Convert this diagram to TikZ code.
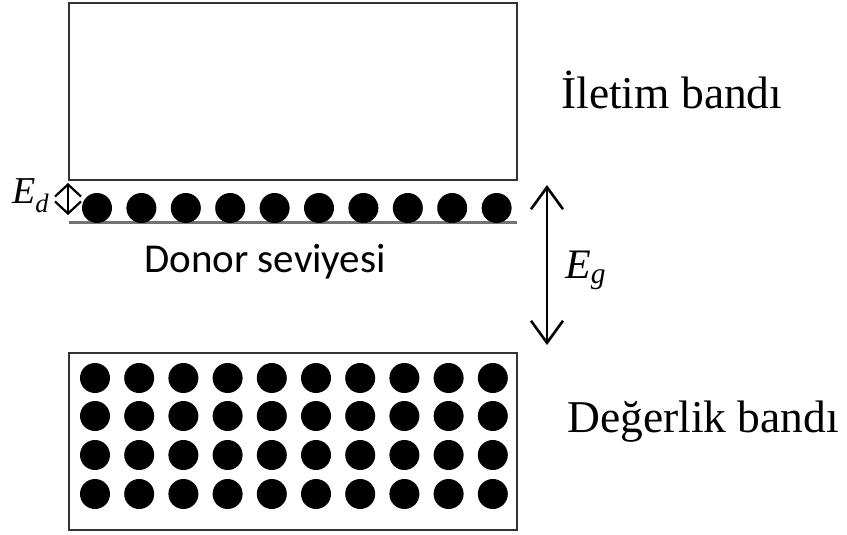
\documentclass[tikz,border=0pt]{standalone}
\usepackage{fontspec}
\setmainfont{Liberation Serif}
\newfontfamily\donorfont{Carlito}
\usetikzlibrary{arrows.meta,positioning}

\begin{document}
\begin{tikzpicture}[x=1pt,y=-1pt,
    band/.style={draw=black!80,line width=1.6pt,inner sep=0pt},
    dot/.style={circle,fill=black,inner sep=0pt,minimum size=30pt},
    bandlabel/.style={anchor=base west,inner sep=0pt,font=\fontsize{45.5}{50}\selectfont},
    elabel/.style={inner sep=0pt,font=\fontsize{42}{48}\selectfont\itshape}]
  \useasboundingbox (0,0) rectangle (847,535);
  % bands
  \node[band,minimum width=448pt,minimum height=177pt] (cb) at (293,91.5)  {};
  \node[band,minimum width=448pt,minimum height=177pt] (vb) at (293,441.5) {};
  % donor level
  \coordinate (dl) at (69,222);
  \coordinate (dr) at (517,222);
  \draw[black!55,line width=3pt] (dl) -- (dr);
  \foreach \i in {0,...,9}
    \node[dot] (d\i) at (97+44.4*\i,208) {};
  % electrons in the valence band
  \foreach \r/\y in {1/378,2/416,3/455,4/494}
    \foreach \i in {0,...,9}
      \node[dot] (v\r\i) at (95+44.2*\i,\y) {};
  % labels
  \node[bandlabel] (il)  at (561,109) {İletim bandı};
  \node[bandlabel] (dg)  at (567,432) {Değerlik bandı};
  \node[anchor=base west,inner sep=0pt,font=\donorfont\fontsize{41}{45}\selectfont]
    (dsv) at (144,272) {Donor seviyesi};
  % gap energies
  \coordinate (gt) at (547,185);
  \coordinate (gb) at (547,345);
  \draw[{Straight Barb[length=22pt,width=32pt]}-{Straight Barb[length=22pt,width=32pt]},line width=2.6pt] (gt) -- (gb);
  \node[elabel,anchor=base west] (eg) at (565,278) {E\textsubscript{g}};
  \coordinate (et) at (68,183);
  \coordinate (eb) at (68,215);
  \draw[{Straight Barb[length=12pt,width=26pt]}-{Straight Barb[length=12pt,width=26pt]},line width=2.2pt] (et) -- (eb);
  \node[elabel,anchor=base west,font=\fontsize{38}{44}\selectfont\itshape] (ed) at (12,203) {E\textsubscript{d}};
\end{tikzpicture}
\end{document}
